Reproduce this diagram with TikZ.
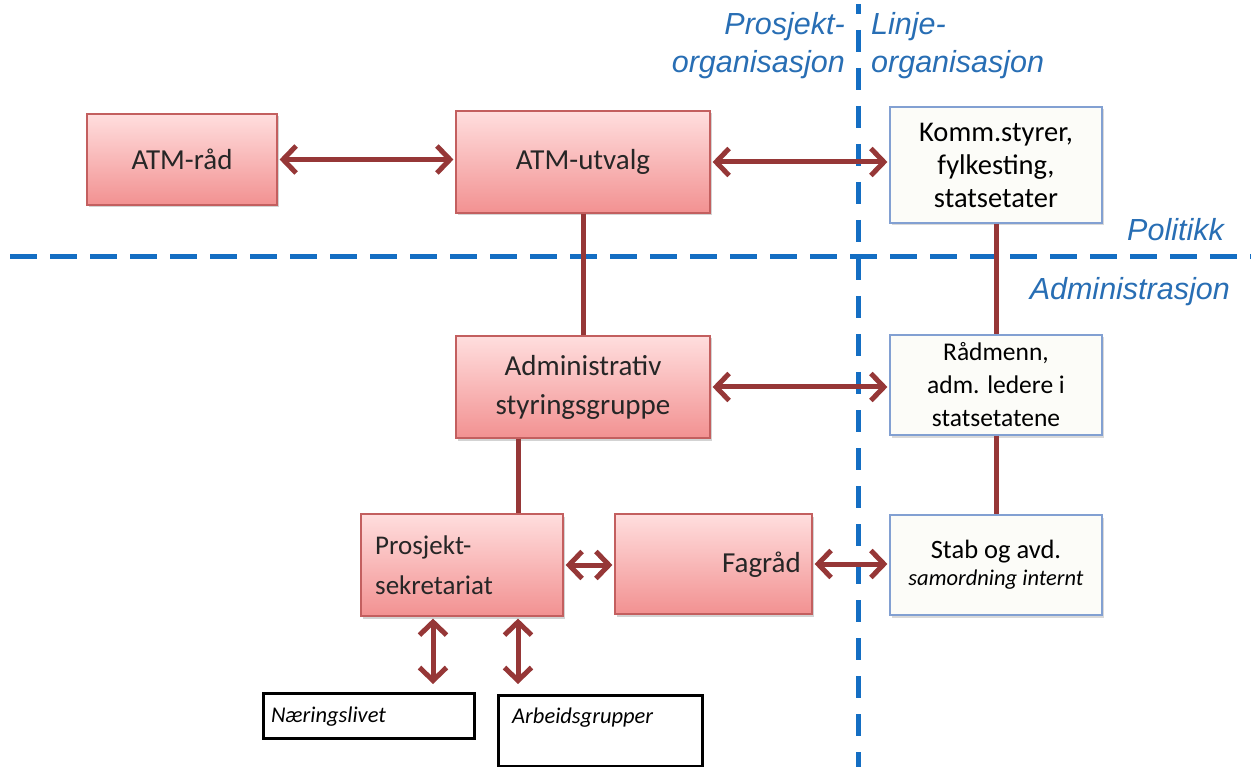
\documentclass[tikz,border=0pt]{standalone}
\usepackage{fontspec}
\setmainfont{Carlito}
\newfontfamily\arfont{Liberation Sans}
\usetikzlibrary{arrows.meta,shadows}
\definecolor{arrowred}{RGB}{150,55,55}
\definecolor{pinkborder}{RGB}{195,95,95}
\definecolor{pinktop}{RGB}{255,222,222}
\definecolor{pinkbot}{RGB}{242,145,145}
\definecolor{dashblue}{RGB}{20,110,195}
\definecolor{labelblue}{RGB}{40,110,180}
\definecolor{linefill}{RGB}{252,252,248}
\definecolor{lineborder}{RGB}{130,160,210}
\tikzset{
  pinkbox/.style={rectangle, draw=pinkborder, line width=1.2pt, top color=pinktop, bottom color=pinkbot,
    drop shadow={opacity=0.35, shadow xshift=2pt, shadow yshift=-2.5pt},
    font=\fontsize{29}{39}\selectfont, text=black!85, inner sep=0pt},
  boxtext/.style={font=\fontsize{27}{40}\selectfont, text=black!85, inner sep=0pt},
  linebox/.style={rectangle, draw=lineborder, line width=1.2pt, fill=linefill,
    drop shadow={opacity=0.3, shadow xshift=2pt, shadow yshift=-2.5pt},
    font=\fontsize{25.5}{33}\selectfont, align=center, inner sep=0pt},
  blackbox/.style={rectangle, draw=black, line width=3pt, fill=white, inner sep=0pt},
  smalltext/.style={font=\itshape\fontsize{22.5}{26}\selectfont, inner sep=0pt},
  dbl/.style={line width=5pt, draw=arrowred, {Straight Barb[length=13pt,width=27pt]}-{Straight Barb[length=13pt,width=27pt]}, shorten <=2pt, shorten >=2pt},
  conn/.style={line width=5pt, draw=arrowred},
  divider/.style={line width=5pt, draw=dashblue},
  bluelabel/.style={font=\arfont\itshape\fontsize{30.5}{36}\selectfont, text=labelblue, inner sep=0pt}
}
\begin{document}
\begin{tikzpicture}[x=1pt,y=-1pt]
\useasboundingbox (0,0) rectangle (1251,767);
% dividers
\draw[divider, dash pattern=on 27pt off 13pt] (10,257) -- (1251,257);
\draw[divider, dash pattern=on 22pt off 16pt, dash phase=12pt] (858,4) -- (858,767);
% labels
\node[bluelabel, anchor=base east] (lp1) at (845,35) {Prosjekt-};
\node[bluelabel, anchor=base east] (lp2) at (845,73) {organisasjon};
\node[bluelabel, anchor=base west] (ll1) at (871,35) {Linje-};
\node[bluelabel, anchor=base west] (ll2) at (871,73) {organisasjon};
\node[bluelabel, anchor=base east] (lpol) at (1224,241) {Politikk};
\node[bluelabel, anchor=base east] (ladm) at (1230,300) {Administrasjon};
% pink boxes
\node[pinkbox, minimum width=190pt, minimum height=91pt] (atmrad) at (182,159.5) {ATM-råd};
\node[pinkbox, minimum width=254pt, minimum height=102pt] (atmutvalg) at (583,162) {ATM-utvalg};
\node[pinkbox, minimum width=254pt, minimum height=102pt, align=center] (adm) at (583,387) {Administrativ\\styringsgruppe};
\node[pinkbox, minimum width=202pt, minimum height=102pt] (prosj) at (462,565) {};
\node[boxtext, anchor=west, align=left] (prosjtxt) at (375,565) {Prosjekt-\\sekretariat};
\node[pinkbox, minimum width=197pt, minimum height=100pt] (fagrad) at (713.5,564) {};
\node[boxtext, anchor=east, font=\fontsize{29}{34}\selectfont] (fagtxt) at (801,565) {Fagråd};
% line boxes
\node[linebox, minimum width=212pt, minimum height=116pt, font=\fontsize{28.5}{33}\selectfont] (komm) at (996,165) {Komm.styrer,\\fylkesting,\\statsetater};
\node[linebox, minimum width=212pt, minimum height=100pt] (radm) at (996,385) {Rådmenn,\\adm. ledere i\\statsetatene};
\node[linebox, minimum width=212pt, minimum height=100pt, font=\fontsize{26.5}{33}\selectfont] (stab) at (996,565) {Stab og avd.\\[-6pt]{\itshape\fontsize{22.5}{26}\selectfont samordning internt}};
% bottom boxes
\node[blackbox, minimum width=211pt, minimum height=45pt] (naer) at (368.5,715.5) {};
\node[smalltext, anchor=west] (naertxt) at (271,717) {Næringslivet};
\node[blackbox, minimum width=204pt, minimum height=71pt] (arb) at (600,731) {};
\node[smalltext, anchor=west] (arbtxt) at (512,718) {Arbeidsgrupper};
% connectors
\draw[conn] (atmutvalg.south) -- (adm.north);
\draw[conn] (adm.south -| 518,0) coordinate (admb) -- (prosj.north -| admb);
\draw[conn] (komm.south) -- (radm.north);
\draw[conn] (radm.south) -- (stab.north);
\draw[dbl] (atmrad.east) -- (atmrad.east -| atmutvalg.west);
\draw[dbl] (atmutvalg.east) -- (atmutvalg.east -| komm.west);
\draw[dbl] (adm.east) -- (adm.east -| radm.west);
\draw[dbl] (prosj.east) -- (prosj.east -| fagrad.west);
\draw[dbl] (fagrad.east) -- (fagrad.east -| stab.west);
\coordinate (a1) at (433,684);
\coordinate (a2) at (518,684);
\draw[dbl, shorten >=0pt] (prosj.south -| a1) -- (a1);
\draw[dbl, shorten >=0pt] (prosj.south -| a2) -- (a2);
\end{tikzpicture}
\end{document}
